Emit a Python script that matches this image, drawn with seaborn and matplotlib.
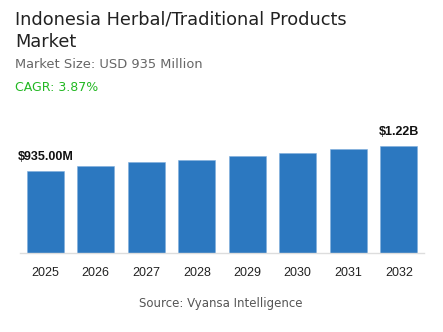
import matplotlib
matplotlib.use("Agg")
import matplotlib.pyplot as plt
import seaborn as sns
import pandas as pd

years = ["2025", "2026", "2027", "2028", "2029", "2030", "2031", "2032"]
values = [935, 990, 1035, 1065, 1105, 1145, 1190, 1220]
label_texts = {0: "$935.00M", 7: "$1.22B"}

title_lines = ["Indonesia Herbal/Traditional Products", "Market"]
subtitle = "Market Size: USD 935 Million"
cagr = "CAGR: 3.87%"
source = "Source: Vyansa Intelligence"

sns.set_theme(style="white")
plt.rcParams["font.family"] = ["DejaVu Sans"]

df = pd.DataFrame({"year": years, "value": values})

fig = plt.figure(figsize=(4.43, 3.32), dpi=100)
ax = fig.add_axes([20 / 443, (332 - 253.3) / 332, 404 / 443, (253.3 - 110) / 332])

sns.barplot(data=df, x="year", y="value", color="#2C78C0", saturation=1,
            width=0.73, edgecolor="#7FAEDD", linewidth=0.4, ax=ax)

ax.set_xlim(-0.5, 7.5)
ax.set_ylim(0, 1630)
ax.set_xlabel("")
ax.set_ylabel("")
ax.set_yticks([])
for s in ["top", "right", "left"]:
    ax.spines[s].set_visible(False)
ax.spines["bottom"].set_color("#DDDDDD")
ax.spines["bottom"].set_linewidth(1.0)
ax.tick_params(axis="x", length=0, pad=10, labelsize=9, labelcolor="#222222")
for t in ax.get_xticklabels():
    t.set_fontfamily("Liberation Sans")

for i, txt in label_texts.items():
    ax.annotate(txt, (i, values[i]), xytext=(0, 8), textcoords="offset points",
                ha="center", va="baseline", fontsize=9, fontweight="bold",
                family="Liberation Sans", color="#111111")

fig.text(15 / 443, 1 - 25 / 332, title_lines[0], ha="left", va="baseline",
         fontsize=12.8, color="#222222")
fig.text(15 / 443, 1 - 47 / 332, title_lines[1], ha="left", va="baseline",
         fontsize=12.8, color="#222222")
fig.text(15 / 443, 1 - 68 / 332, subtitle, ha="left", va="baseline", fontsize=9.4,
         color="#666666")
fig.text(15 / 443, 1 - 91 / 332, cagr, ha="left", va="baseline", fontsize=9.0,
         color="#22B822")
fig.text(221 / 443, 1 - 303 / 332, source, ha="center", va="center", fontsize=8.5,
         color="#555555")

fig.savefig("out.png", dpi=100)
